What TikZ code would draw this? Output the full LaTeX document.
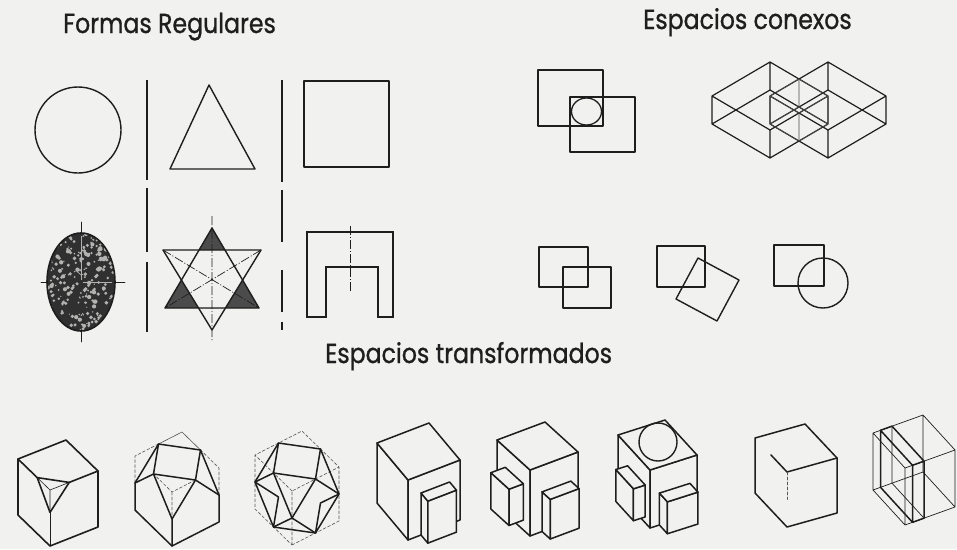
\documentclass[tikz,border=0pt]{standalone}
\usepackage{fontspec}
\newfontfamily\headfont{Poppins}[FakeStretch=0.86,FakeBold=0.9]
\definecolor{paper}{RGB}{241,241,240}
\definecolor{ink}{RGB}{30,30,30}
% edges of a cuboid in the current 3D frame
\newcommand\wirebox[6]{%
  \draw (#1,#3,#5)--(#2,#3,#5)--(#2,#4,#5)--(#1,#4,#5)--cycle
        (#1,#3,#6)--(#2,#3,#6)--(#2,#4,#6)--(#1,#4,#6)--cycle
        (#1,#3,#5)--(#1,#3,#6) (#2,#3,#5)--(#2,#3,#6)
        (#2,#4,#5)--(#2,#4,#6) (#1,#4,#5)--(#1,#4,#6);}
% the three faces of a cuboid that face the viewer, opaque
\newcommand\solidbox[6]{%
  \filldraw[fill=paper] (#1,#3,#5)--(#1,#4,#5)--(#1,#4,#6)--(#1,#3,#6)--cycle;
  \filldraw[fill=paper] (#1,#3,#5)--(#2,#3,#5)--(#2,#3,#6)--(#1,#3,#6)--cycle;
  \filldraw[fill=paper] (#1,#3,#6)--(#2,#3,#6)--(#2,#4,#6)--(#1,#4,#6)--cycle;}
\begin{document}
\begin{tikzpicture}[x=1pt,y=-1pt,
  heavy/.style={draw=ink,line width=1.7pt,line join=round,line cap=round},
  mid/.style={draw=ink,line width=1.2pt,line join=round,line cap=round},
  hair/.style={draw=ink,line width=0.6pt,line cap=round},
  ghost/.style={draw=ink!75,line width=0.6pt,dash pattern=on 3pt off 2pt},
  centreline/.style={draw=ink,line width=0.7pt,dash pattern=on 9pt off 2pt on 1pt off 2pt},
  divider/.style={draw=ink,line width=1.5pt},
  heading/.style={font=\headfont\fontsize{27.5}{30}\selectfont,text=ink,anchor=base west,inner sep=0pt},
]
\fill[paper] (0,0) rectangle (957,549);
\useasboundingbox (0,0) rectangle (957,549);

% ---------- headings ----------
\node[heading] (formas) at (63,33) {Formas Regulares};
\node[heading] (conexos) at (643,29) {Espacios conexos};
\node[heading] (transf) at (325,363) {Espacios transformados};

% ---------- regular forms ----------
\draw[divider] (147,80)--(147,180) (147,188)--(147,252) (147,262)--(147,332);
\draw[divider] (282,80)--(282,182) (282,190)--(282,242) (282,270)--(282,312) (282,322)--(282,330);

\draw[mid,line width=1.4pt] (78,130) circle [radius=43];
\draw[mid,line width=1.4pt] (209,85)--(170,169)--(255,169)--cycle;
\draw[mid,line width=1.5pt] (304,81) rectangle (389,167);

% stippled ellipse with cross
\begin{scope}
  \clip (81,282) ellipse [x radius=34, y radius=49];
  \fill[ink!92] (81,282) ellipse [x radius=34, y radius=49];
  \pgfmathsetseed{42}
  \foreach \k in {1,...,260}{
    \pgfmathsetmacro\px{81+34*rand}
    \pgfmathsetmacro\py{282+49*rand}
    \pgfmathsetmacro\pr{0.6+1.6*rnd}
    \fill[paper!70!ink] (\px,\py) circle [radius=\pr];
  }
  \draw[paper!70!ink,line width=1pt] (81,236)--(81,280) (83,282)--(112,282);
\end{scope}
\draw[heavy,line width=1.6pt] (81,282) ellipse [x radius=34, y radius=49];
\draw[hair,line width=0.9pt] (81,222)--(81,234) (81,331)--(81,342) (41,282)--(48,282) (115,282)--(125,282);

% six-pointed star
\begin{scope}
  \clip (212,228)--(165,308)--(259,308)--cycle;
  \fill[ink!80,even odd rule] (212,228)--(165,308)--(259,308)--cycle
                             (163,250)--(261,250)--(212,330)--cycle;
\end{scope}
\draw[mid,line width=1.4pt] (212,228)--(165,308)--(259,308)--cycle;
\draw[mid,line width=1.4pt] (163,250)--(261,250)--(212,330)--cycle;
\draw[centreline] (212,216)--(212,340) (163,250)--(259,308) (261,250)--(165,308);

% arch shape
\draw[heavy,line width=2.2pt,line cap=butt,line join=miter]
  (307,317)--(307,232)--(393,232)--(393,317)--(378,317)--(378,267)--(326,267)--(326,317)--cycle;
\draw[centreline] (350,226)--(350,292);

% ---------- connected spaces ----------
\draw[mid,line width=1.5pt] (538,70) rectangle (603,126);
\draw[mid,line width=1.5pt] (570,97) rectangle (635,152);
\draw[mid,line width=1.3pt] (586.5,111.5) ellipse [x radius=15, y radius=13.5];

\begin{scope}[shift={(770,90)},x={(58pt,-34pt)},y={(-58pt,-34pt)},z={(0pt,28pt)},
              draw=ink,line width=1.2pt,line join=round]
  \wirebox{0}{1}{0}{1}{0}{1}
  \wirebox{0.5}{1.5}{-0.5}{0.5}{0}{1}
  \begin{scope}[line width=0.7pt,draw=ink!80]
    \wirebox{0.5}{1}{0}{0.5}{0}{1}
  \end{scope}
\end{scope}

\draw[mid,line width=1.4pt] (539,247) rectangle (588,287);
\draw[mid,line width=1.4pt] (563,267) rectangle (611,308);
\draw[mid,line width=1.4pt] (657,246) rectangle (705,287);
\draw[mid,line width=1.4pt] (698,258)--(739,280)--(717,321)--(676,299)--cycle;
\draw[mid,line width=1.4pt] (774,245) rectangle (824,286);
\draw[mid,line width=1.4pt] (823,283) circle [radius=25];

% ---------- transformed spaces ----------
% cube with one corner cut
\begin{scope}[shift={(50,546)},x={(48pt,19pt)},y={(-32pt,31pt)},z={(0pt,56pt)},
              heavy,line width=1.6pt]
  \draw (0,0,0)--(1,0,0)--(1,0,1)--(1,1,1)--(0,1,1)--(0,1,0)--cycle;
  \draw (0.4,0,1)--(1,0,1) (0,0.4,1)--(0,1,1);
  \draw (0.4,0,1)--(0,0.4,1)--(0,0,0.6)--cycle;
  \draw[hair] (0,0,0.6)--(0,0,0);
  \draw[hair] (0.4,0,1)--(0,0,1)--(0,0.4,1) (0,0,1)--(0,0,0.6);
\end{scope}

% cube with the four upper corners cut
\begin{scope}[shift={(172,546)},x={(47pt,24pt)},y={(-37pt,36pt)},z={(0pt,54pt)},
              heavy,line width=1.5pt]
  \draw[ghost] (1,0,0.5)--(1,0,1)--(1,1,1)--(0,1,1)--(0,1,0.5)
               (0.5,0,1)--(0,0,1)--(0,0.5,1) (0,0,1)--(0,0,0.5)
               (1,0.5,1)--(1,1,1)--(0.5,1,1);
  \draw (0,0,0)--(1,0,0)--(1,0,0.5)--(0.5,0,1)--(0,0,0.5)--cycle;
  \draw (0,0,0)--(0,1,0)--(0,1,0.5)--(0,0.5,1)--(0,0,0.5);
  \draw (0.5,0,1)--(1,0.5,1)--(0.5,1,1)--(0,0.5,1)--cycle;
  \draw (1,0,0.5)--(1,0.5,1) (0,1,0.5)--(0.5,1,1);
\end{scope}

% cuboctahedron inside its cube
\begin{scope}[shift={(292,545)},x={(47pt,24pt)},y={(-37pt,36pt)},z={(0pt,54pt)},
              heavy,line width=1.5pt]
  \draw[ghost] (0,0,0)--(1,0,0)--(1,0,1)--(1,1,1)--(0,1,1)--(0,1,0)--cycle
               (0,0,0)--(0,0,1)--(1,0,1) (0,0,1)--(0,1,1);
  \draw (0,0.5,0)--(0,1,0.5)--(0,0.5,1)--(0,0,0.5)--cycle;
  \draw (0.5,0,0)--(1,0,0.5)--(0.5,0,1)--(0,0,0.5)--cycle;
  \draw (0.5,0,1)--(1,0.5,1)--(0.5,1,1)--(0,0.5,1)--cycle;
  \draw (0.5,0,0)--(0,0.5,0) (1,0,0.5)--(1,0.5,1)
        (0.5,0,0)--(1,0.5,0)--(1,0,0.5)
        (0,1,0.5)--(0.5,1,1)
        (0,0.5,0)--(0.5,1,0)--(0,1,0.5);
\end{scope}

% cube with one block
\begin{scope}[shift={(408,540)},x={(52pt,20pt)},y={(-31pt,37pt)},z={(0pt,60pt)},
              heavy,line width=1.5pt]
  \solidbox{0}{1}{0}{1}{0}{1}
  \solidbox{0.25}{0.8}{-0.22}{0}{0}{0.7}
\end{scope}

% cube with two blocks
\begin{scope}[shift={(530,536)},x={(48pt,18pt)},y={(-33pt,30pt)},z={(0pt,66pt)},
              heavy,line width=1.5pt]
  \solidbox{0}{1}{0}{1}{0}{1}
  \solidbox{0.25}{0.85}{-0.25}{0}{0}{0.6}
  \solidbox{-0.3}{0}{0.2}{0.75}{0.15}{0.7}
\end{scope}

% cube with two blocks and a sphere
\begin{scope}[shift={(650,528)},x={(47pt,15pt)},y={(-32pt,35pt)},z={(0pt,58pt)},
              heavy,line width=1.5pt]
  \solidbox{0}{1}{0}{1}{0}{1}
  \solidbox{0.2}{0.85}{-0.25}{0}{0}{0.55}
  \solidbox{-0.25}{0}{0.15}{0.7}{0.1}{0.65}
\end{scope}
\draw[heavy,line width=1.4pt] (658,442) circle [radius=19];

% open cube
\begin{scope}[shift={(787,527)},x={(50pt,14pt)},y={(-32pt,34pt)},z={(0pt,55pt)},
              heavy,line width=1.5pt]
  \draw (0,0,0)--(1,0,0)--(1,0,1)--(1,1,1)--(0,1,1)--(0,1,0)--cycle;
  \draw (0,0.5,1)--(0,0,1)--(1,0,1);
  \draw[ghost,line width=0.8pt] (0,0,1)--(0,0,0.5);
\end{scope}

% transparent cube with a slab
\begin{scope}[shift={(905,525)},x={(50pt,18pt)},y={(-32pt,35pt)},z={(0pt,57pt)},
              draw=ink,line width=0.7pt,line join=round]
  \wirebox{0}{1}{0}{1}{0}{1}
  \begin{scope}[line width=1.5pt]
    \draw (0.15,0,0)--(0.15,1,0)--(0.15,1,1)--(0.15,0,1)--cycle;
    \draw (0.15,0,0)--(0.38,0,0)--(0.38,0,1)--(0.15,0,1);
    \draw (0.15,1,1)--(0.38,1,1)--(0.38,0,1);
  \end{scope}
  \draw (0.38,0,0)--(0.38,1,0)--(0.38,1,1);
\end{scope}
\end{tikzpicture}
\end{document}
